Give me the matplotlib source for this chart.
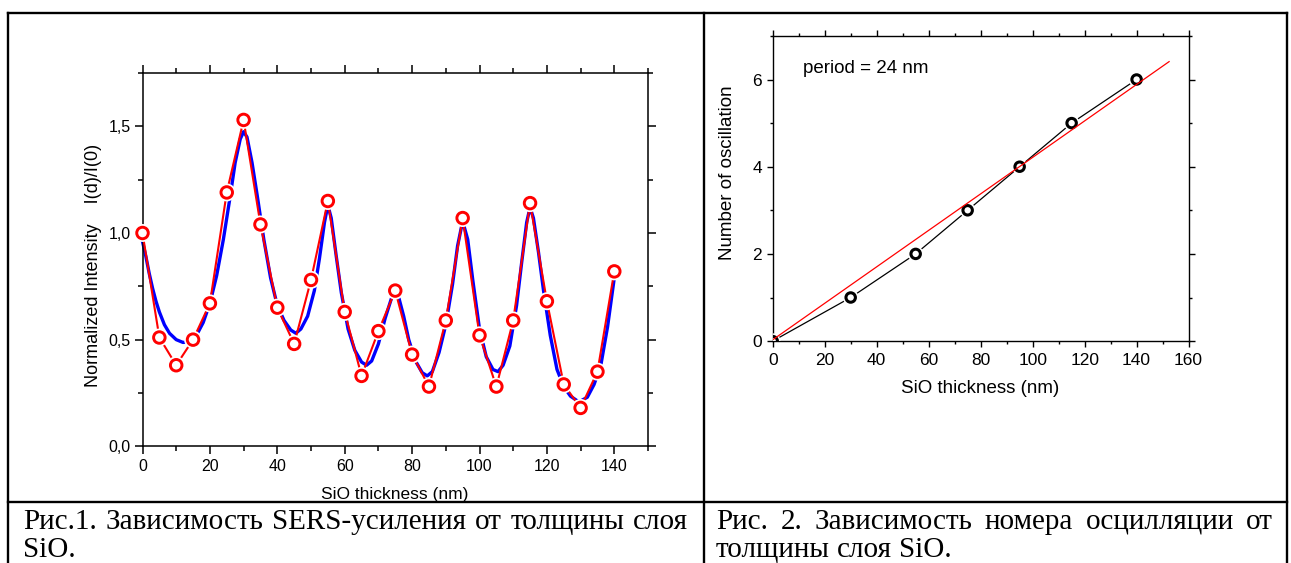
import matplotlib
matplotlib.use('Agg')
import matplotlib.pyplot as plt
import matplotlib.patheffects as pe
from matplotlib.lines import Line2D
from matplotlib.ticker import MultipleLocator

# ---- Fig. 1: SERS enhancement vs SiO thickness ----
thickness = [0, 5, 10, 15, 20, 25, 30, 35, 40, 45, 50, 55, 60, 65, 70,
             75, 80, 85, 90, 95, 100, 105, 110, 115, 120, 125, 130, 135, 140]
intensity = [1.00, 0.51, 0.38, 0.50, 0.67, 1.19, 1.53, 1.04, 0.65, 0.48,
             0.78, 1.15, 0.63, 0.33, 0.54, 0.73, 0.43, 0.28, 0.59, 1.07,
             0.52, 0.28, 0.59, 1.14, 0.68, 0.29, 0.18, 0.35, 0.82]

# smooth (blue) curve
fit_thickness = [0, 1, 2, 3, 4, 5, 6.5, 8, 10, 12, 14, 16, 18, 20, 22, 24, 26,
                 27.5, 29, 30, 31, 32.5, 34, 36, 38, 40, 42, 44, 45.5, 47, 49,
                 51, 52.5, 54, 55, 56, 57.5, 59, 61, 63, 65, 66.5, 68, 70, 72,
                 74, 75, 76, 77.5, 79, 81, 83, 84.5, 86, 88, 90, 92, 93.5, 95,
                 96.5, 98, 100, 102, 104, 105.5, 107, 109, 111, 112.5, 114, 115,
                 116, 117.5, 119, 121, 123, 125, 127, 129.5, 132, 134, 136,
                 138, 140]
fit_intensity = [0.96, 0.89, 0.81, 0.74, 0.68, 0.63, 0.57, 0.53, 0.50, 0.487,
                 0.49, 0.52, 0.58, 0.67, 0.80, 0.97, 1.17, 1.33, 1.44, 1.475,
                 1.45, 1.33, 1.18, 0.97, 0.79, 0.66, 0.59, 0.545, 0.53, 0.55,
                 0.61, 0.73, 0.88, 1.05, 1.13, 1.07, 0.89, 0.72, 0.55, 0.45,
                 0.395, 0.38, 0.40, 0.48, 0.60, 0.70, 0.72, 0.70, 0.61, 0.50,
                 0.40, 0.345, 0.33, 0.35, 0.44, 0.57, 0.76, 0.94, 1.055, 0.97,
                 0.78, 0.55, 0.42, 0.36, 0.35, 0.38, 0.47, 0.66, 0.86, 1.05,
                 1.12, 1.07, 0.91, 0.73, 0.52, 0.36, 0.28, 0.235, 0.208, 0.23,
                 0.29, 0.38, 0.56, 0.79]

y1_ticks = [0.0, 0.5, 1.0, 1.5]
y1_labels = ['0,0', '0,5', '1,0', '1,5']

# ---- Fig. 2: oscillation number vs SiO thickness ----
osc_thickness = [0, 30, 55, 75, 95, 115, 140]
osc_number = [0, 1, 2, 3, 4, 5, 6]
lin_thickness = [0, 152.5]
lin_number = [0.03, 6.41]

caption1 = [["Рис.1.", "Зависимость", "SERS-усиления", "от", "толщины", "слоя"],
            ["SiO."]]
caption2 = [["Рис.", "2.", "Зависимость", "номера", "осцилляции", "от"],
            ["толщины", "слоя", "SiO."]]

W, H = 1291, 563
SANS = 'Liberation Sans'
SERIF = 'Liberation Serif'
CAP_SIZE = 21

fig = plt.figure(figsize=(W / 100, H / 100), dpi=100)


def px_box(left, top, right, bottom):
    return [left / W, 1 - bottom / H, (right - left) / W, (bottom - top) / H]


# ---------- chart 1 ----------
ax1 = fig.add_axes(px_box(142.5, 73, 648, 446.3))
ax1.plot(fit_thickness, fit_intensity, color='#0000ff', lw=2.4, zorder=2,
         clip_on=False, solid_joinstyle='round')
ax1.plot(thickness, intensity, color='#ff0000', lw=1.5, zorder=3, clip_on=False)
ax1.plot(thickness, intensity, ls='none', marker='o', ms=8.3, mew=2.1,
         mec='#ff0000', mfc='white', zorder=4, clip_on=False,
         path_effects=[pe.Stroke(linewidth=4.6, foreground='white'), pe.Normal()])

ax1.set_xlim(0, 150)
ax1.set_ylim(0, 1.75)
ax1.set_xticks([0, 20, 40, 60, 80, 100, 120, 140])
ax1.xaxis.set_minor_locator(MultipleLocator(10))
ax1.set_yticks(y1_ticks, y1_labels)
ax1.yaxis.set_minor_locator(MultipleLocator(0.25))
ax1.tick_params(which='both', direction='out', top=True, right=True, width=1.1,
                labelsize=11.5, labelfontfamily=SANS)
ax1.tick_params(which='major', length=6)
ax1.tick_params(which='minor', length=3.6)
ax1.tick_params(axis='x', pad=3.5)
ax1.tick_params(axis='y', pad=2.3)
for sp in ax1.spines.values():
    sp.set_linewidth(1.1)
ax1.set_xlabel('SiO thickness (nm)', family=SANS, fontsize=12.5, va='center')
ax1.xaxis.set_label_coords(0.4995, -0.128)
ax1.set_ylabel('Normalized Intensity    I(d)/I(0)', family=SANS, fontsize=13,
               va='center')
ax1.yaxis.set_label_coords(-0.097, 0.484)

# ---------- chart 2 ----------
ax2 = fig.add_axes(px_box(772.7, 35.9, 1188.6, 341.1))
ax2.plot(osc_thickness, osc_number, color='black', lw=0.9, zorder=2)
ax2.plot(osc_thickness, osc_number, ls='none', marker='o', ms=6.8, mew=2.2,
         mec='black', mfc='white', zorder=3,
         path_effects=[pe.Stroke(linewidth=4.4, foreground='white'), pe.Normal()])
ax2.plot(lin_thickness, lin_number, color='#ff0000', lw=0.9, zorder=4)
ax2.text(11.6, 6.25, 'period = 24 nm', family=SANS, fontsize=13.5, va='center',
         ha='left')

ax2.set_xlim(0, 160)
ax2.set_ylim(0, 7)
ax2.xaxis.set_major_locator(MultipleLocator(20))
ax2.xaxis.set_minor_locator(MultipleLocator(10))
ax2.yaxis.set_major_locator(MultipleLocator(2))
ax2.yaxis.set_minor_locator(MultipleLocator(1))
ax2.tick_params(which='both', direction='out', top=True, right=True, width=1.0,
                labelsize=12.5, labelfontfamily=SANS)
ax2.tick_params(which='major', length=4.5)
ax2.tick_params(which='minor', length=2.5)
ax2.tick_params(axis='x', pad=3.8)
ax2.tick_params(axis='y', pad=3.2)
for sp in ax2.spines.values():
    sp.set_linewidth(1.0)
ax2.set_xlabel('SiO thickness (nm)', family=SANS, fontsize=13.5, va='center')
ax2.xaxis.set_label_coords(0.498, -0.154)
ax2.set_ylabel('Number of oscillation', family=SANS, fontsize=13.5, va='center')
ax2.yaxis.set_label_coords(-0.1075, 0.551)

# ---------- table borders ----------
border = dict(color='black', lw=1.7, solid_capstyle='projecting')
for xs, ys in [((8, 1287), (13, 13)), ((8, 1287), (502, 502)),
               ((8, 8), (13, H + 5)), ((704, 704), (13, H + 5)),
               ((1287, 1287), (13, H + 5))]:
    fig.add_artist(Line2D([x / W for x in xs], [1 - y / H for y in ys], **border))

# ---------- captions (justified like the document text) ----------
renderer = fig.canvas.get_renderer()


def put_line(words, x0, x1, base, justify):
    texts = [fig.text(0, 1 - base / H, w, family=SERIF, fontsize=CAP_SIZE,
                      va='baseline', ha='left') for w in words]
    widths = [t.get_window_extent(renderer).width for t in texts]
    if justify and len(words) > 1:
        gap = (x1 - x0 - sum(widths)) / (len(words) - 1)
    else:
        gap = 0.25 * CAP_SIZE * 100 / 72
    x = x0
    for t, w in zip(texts, widths):
        t.set_x(x / W)
        x += w + gap


put_line(caption1[0], 23, 688, 529, True)
put_line(caption1[1], 23, 688, 557, False)
put_line(caption2[0], 716, 1273, 529, True)
put_line(caption2[1], 716, 1273, 557, False)

fig.savefig('out.png', dpi=100)
